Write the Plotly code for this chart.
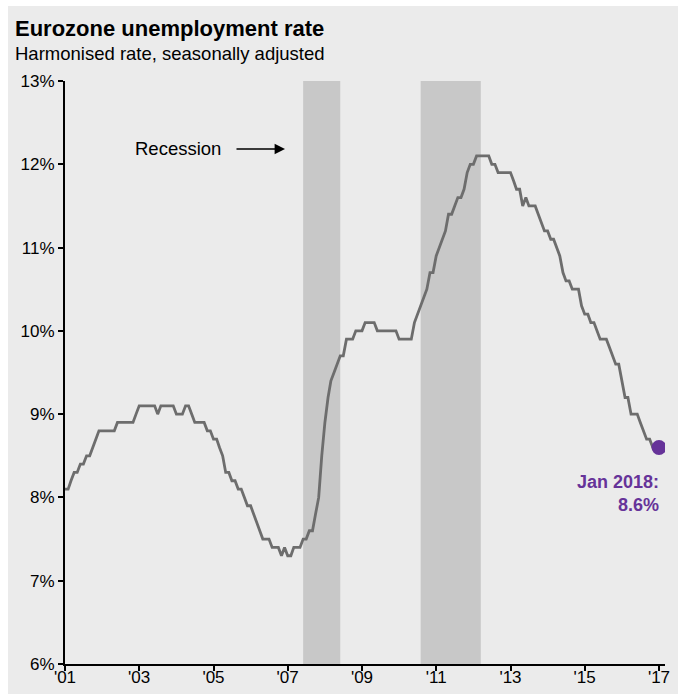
import pandas as pd
import plotly.graph_objects as go

# ---- data -------------------------------------------------------------
start_month = "2002-01-01"
unemployment_rate = [
    8.1, 8.1, 8.2, 8.3, 8.3, 8.4, 8.4, 8.5, 8.5, 8.6, 8.7, 8.8,        # 2002
    8.8, 8.8, 8.8, 8.8, 8.8, 8.9, 8.9, 8.9, 8.9, 8.9, 8.9, 9.0,        # 2003
    9.1, 9.1, 9.1, 9.1, 9.1, 9.1, 9.0, 9.1, 9.1, 9.1, 9.1, 9.1,        # 2004
    9.0, 9.0, 9.0, 9.1, 9.1, 9.0, 8.9, 8.9, 8.9, 8.9, 8.8, 8.8,        # 2005
    8.7, 8.7, 8.6, 8.5, 8.3, 8.3, 8.2, 8.2, 8.1, 8.1, 8.0, 7.9,        # 2006
    7.9, 7.8, 7.7, 7.6, 7.5, 7.5, 7.5, 7.4, 7.4, 7.4, 7.3, 7.4,        # 2007
    7.3, 7.3, 7.4, 7.4, 7.4, 7.5, 7.5, 7.6, 7.6, 7.8, 8.0, 8.5,        # 2008
    8.9, 9.2, 9.4, 9.5, 9.6, 9.7, 9.7, 9.9, 9.9, 9.9, 10.0, 10.0,      # 2009
    10.0, 10.1, 10.1, 10.1, 10.1, 10.0, 10.0, 10.0, 10.0, 10.0, 10.0, 10.0,  # 2010
    9.9, 9.9, 9.9, 9.9, 9.9, 10.1, 10.2, 10.3, 10.4, 10.5, 10.7, 10.7,  # 2011
    10.9, 11.0, 11.1, 11.2, 11.4, 11.4, 11.5, 11.6, 11.6, 11.7, 11.9, 12.0,  # 2012
    12.0, 12.1, 12.1, 12.1, 12.1, 12.1, 12.0, 12.0, 11.9, 11.9, 11.9, 11.9,  # 2013
    11.9, 11.8, 11.7, 11.7, 11.5, 11.6, 11.5, 11.5, 11.5, 11.4, 11.3, 11.2,  # 2014
    11.2, 11.1, 11.1, 11.0, 10.9, 10.7, 10.6, 10.6, 10.5, 10.5, 10.5, 10.3,  # 2015
    10.2, 10.2, 10.1, 10.1, 10.0, 9.9, 9.9, 9.9, 9.8, 9.7, 9.6, 9.6,   # 2016
    9.4, 9.2, 9.2, 9.0, 9.0, 9.0, 8.9, 8.8, 8.7, 8.7, 8.6, 8.6,        # 2017
    8.6,                                                               # Jan 2018
]
months = pd.date_range(start_month, periods=len(unemployment_rate), freq="MS")

recession_start = ["2008-06-01", "2011-08-01"]
recession_end = ["2009-06-01", "2013-03-15"]

tick_dates = ["2002-01-01", "2004-01-01", "2006-01-01", "2008-01-01", "2010-01-01",
              "2012-01-01", "2014-01-01", "2016-01-01", "2018-01-01"]
tick_labels = ["'01", "'03", "'05", "'07", "'09", "'11", "'13", "'15", "'17"]
y_ticks = [6, 7, 8, 9, 10, 11, 12, 13]

title_text = "Eurozone unemployment rate"
subtitle_text = "Harmonised rate, seasonally adjusted"
last_label = "Jan 2018:<br>8.6%"

# ---- figure -------------------------------------------------------------
FONT = "Liberation Sans, Arial, Helvetica, sans-serif"
W, H = 684, 699
L, R, T, B = 65, 19, 81, 35
PW, PH = W - L - R, H - T - B
BG = "#ebebeb"
PURPLE = "#663399"


def px(x):
    return (x - L) / PW


def py(y):
    return (H - B - y) / PH


fig = go.Figure()

fig.add_trace(go.Scatter(
    x=months, y=unemployment_rate, mode="lines",
    line=dict(color="#6d6d6d", width=2.8), hoverinfo="skip", showlegend=False,
))
fig.add_trace(go.Scatter(
    x=[months[-1]], y=[unemployment_rate[-1]], mode="markers",
    marker=dict(color=PURPLE, size=15), hoverinfo="skip", showlegend=False,
))

shapes = [dict(type="rect", xref="paper", yref="paper",
               x0=px(8), x1=px(678), y0=py(694), y1=py(6),
               fillcolor=BG, line=dict(width=0), layer="below")]
for s, e in zip(recession_start, recession_end):
    shapes.append(dict(type="rect", xref="x", yref="paper", x0=s, x1=e, y0=0, y1=1,
                       fillcolor="#c8c8c8", line=dict(width=0), layer="below"))

annotations = [
    dict(text="<b>" + title_text + "</b>", xref="paper", yref="paper",
         x=px(13), y=py(28), xanchor="left", yanchor="middle", showarrow=False,
         font=dict(family=FONT, size=22, color="#000000")),
    dict(text=subtitle_text, xref="paper", yref="paper",
         x=px(13), y=py(53), xanchor="left", yanchor="middle", showarrow=False,
         font=dict(family=FONT, size=18.5, color="#000000")),
    dict(text="Recession", xref="paper", yref="paper",
         x=px(223), y=py(148), xanchor="right", yanchor="middle", showarrow=False,
         font=dict(family=FONT, size=18.5, color="#000000")),
    dict(text="", xref="paper", yref="paper", x=px(285), y=py(149),
         ax=-50, ay=0, axref="pixel", ayref="pixel", showarrow=True,
         arrowhead=2, arrowsize=1.3, arrowwidth=1.6, arrowcolor="#000000"),
    dict(text="<b>" + last_label + "</b>", xref="paper", yref="paper",
         x=px(661), y=py(470), xanchor="right", yanchor="top", align="right",
         showarrow=False, font=dict(family=FONT, size=18, color=PURPLE)),
]

fig.update_layout(
    width=W, height=H,
    margin=dict(l=L, r=R, t=T, b=B, pad=0, autoexpand=False),
    paper_bgcolor="#ffffff", plot_bgcolor=BG,
    font=dict(family=FONT, size=17, color="#000000"),
    shapes=shapes, annotations=annotations, showlegend=False,
)
fig.update_xaxes(
    type="date", range=["2002-01-01", "2018-03-01"], automargin=False,
    tickmode="array", tickvals=tick_dates, ticktext=tick_labels,
    showgrid=False, zeroline=False, showline=True, linecolor="#000000", linewidth=2,
    ticks="outside", ticklen=5, tickwidth=1.5, tickcolor="#000000",
    ticklabelstandoff=-8,
    tickfont=dict(family=FONT, size=17, color="#000000"),
)
fig.update_yaxes(
    range=[6, 13], automargin=False, tickmode="array", tickvals=y_ticks,
    ticktext=[f"{v}%" for v in y_ticks],
    showgrid=False, zeroline=False, showline=True, linecolor="#000000", linewidth=2,
    ticks="outside", ticklen=5, tickwidth=1.5, tickcolor="#000000",
    tickfont=dict(family=FONT, size=17, color="#000000"),
)

fig.write_html(
    "out.html",
    config={"displayModeBar": False},
    post_script="document.body.style.margin='0px';document.body.style.overflow='hidden';",
)
